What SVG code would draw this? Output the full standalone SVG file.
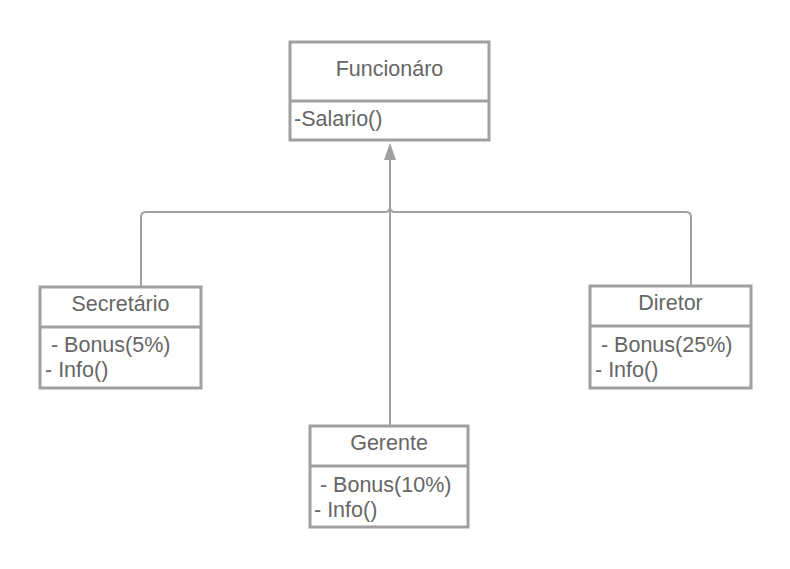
<svg xmlns="http://www.w3.org/2000/svg" width="790" height="569" viewBox="0 0 790 569">
<style>
.box{fill:#fff;stroke:#a0a0a0;stroke-width:3}
.div{stroke:#a0a0a0;stroke-width:3}
.t{font-family:"Liberation Sans",Arial,sans-serif;font-size:21.5px;fill:#666}
.c{text-anchor:middle}
.conn{fill:none;stroke:#a0a0a0;stroke-width:2}
.head{fill:#a0a0a0}
</style>
<rect width="790" height="569" fill="#fff"/>
<g id="connectors">
<path class="conn" d="M141,286 V217 Q141,212 146,212 H385 Q390,212 390,207"/>
<path class="conn" d="M691,285 V217 Q691,212 686,212 H395 Q390,212 390,207"/>
<path class="conn" d="M390,425 V158"/>
<polygon class="head" points="390,143 384,160 396,160"/>
</g>
<g id="funcionario">
<rect class="box" x="290" y="42" width="199" height="98"/>
<line class="div" x1="290" y1="101" x2="489" y2="101"/>
<text class="t c" x="389.5" y="76">Funcionáro</text>
<text class="t" x="294" y="126">-Salario()</text>
</g>
<g id="secretario">
<rect class="box" x="40" y="287" width="161" height="101"/>
<line class="div" x1="40" y1="327" x2="201" y2="327"/>
<text class="t c" x="120.5" y="311">Secretário</text>
<text class="t" x="45" y="352" xml:space="preserve"> - Bonus(5%)</text>
<text class="t" x="45" y="377">- Info()</text>
</g>
<g id="diretor">
<rect class="box" x="590" y="286" width="161" height="102"/>
<line class="div" x1="590" y1="326" x2="751" y2="326"/>
<text class="t c" x="670.5" y="310">Diretor</text>
<text class="t" x="595" y="352" xml:space="preserve"> - Bonus(25%)</text>
<text class="t" x="595" y="377">- Info()</text>
</g>
<g id="gerente">
<rect class="box" x="310" y="426" width="158" height="101"/>
<line class="div" x1="310" y1="466" x2="468" y2="466"/>
<text class="t c" x="389" y="450">Gerente</text>
<text class="t" x="314" y="492" xml:space="preserve"> - Bonus(10%)</text>
<text class="t" x="314" y="517">- Info()</text>
</g>
</svg>
